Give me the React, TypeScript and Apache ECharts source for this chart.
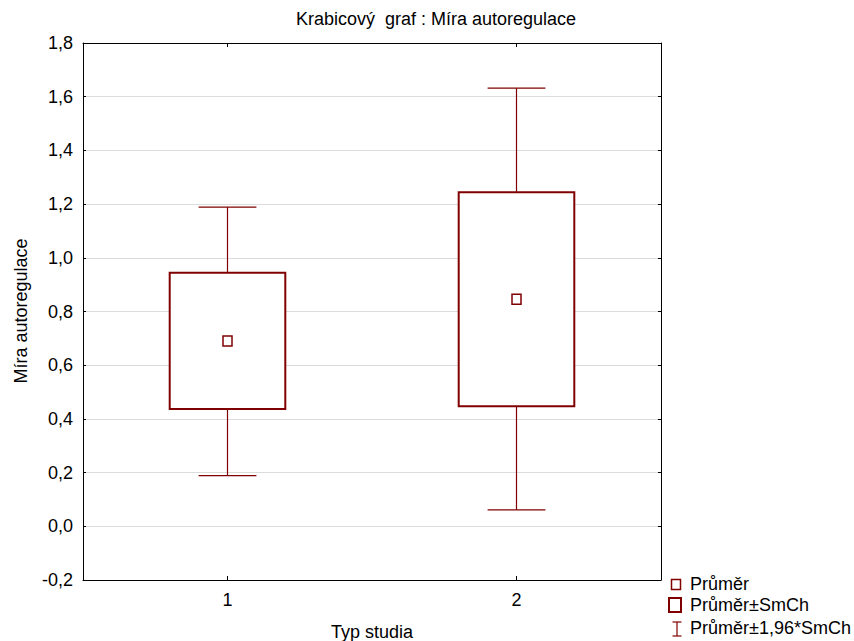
import React, { useEffect, useRef } from "react";
import * as echarts from "echarts";

// Study types on the x axis
const categories = ["1", "2"];
// Mean of the autoregulation score per study type
const means = [0.69, 0.846];
// Mean ± standard error (box)
const seLow = [0.437, 0.447];
const seHigh = [0.944, 1.244];
// Mean ± 1.96 * standard error (whiskers)
const ciLow = [0.189, 0.061];
const ciHigh = [1.189, 1.632];

const Y_MIN = -0.2;
const Y_MAX = 1.8;
const Y_STEP = 0.2;

const MAROON = "#800000";
const FONT = "Liberation Sans, Arial, sans-serif";
const FS = 18;

const rows = categories.map((_, i) => [i, ciLow[i], seLow[i], means[i], seHigh[i], ciHigh[i]]);

const fmt = (v: number) => v.toFixed(1).replace(".", ",");

export default function App() {
  const ref = useRef<HTMLDivElement>(null);

  useEffect(() => {
    if (!ref.current) return;
    const chart = echarts.init(ref.current, null, { renderer: "svg" });

    const whiskers = (params: any, api: any) => {
      const x = api.value(0);
      const lo = api.coord([x, api.value(1)]);
      const bl = api.coord([x, api.value(2)]);
      const bh = api.coord([x, api.value(4)]);
      const hi = api.coord([x, api.value(5)]);
      const band = api.size([1, 0])[0];
      const half = (band * 0.2) / 2;
      const st = { stroke: MAROON, lineWidth: 1.2 };
      return {
        type: "group",
        children: [
          { type: "line", shape: { x1: hi[0], y1: hi[1], x2: bh[0], y2: bh[1] }, style: st },
          { type: "line", shape: { x1: bl[0], y1: bl[1], x2: lo[0], y2: lo[1] }, style: st },
          { type: "line", shape: { x1: hi[0] - half, y1: hi[1], x2: hi[0] + half, y2: hi[1] }, style: st },
          { type: "line", shape: { x1: lo[0] - half, y1: lo[1], x2: lo[0] + half, y2: lo[1] }, style: st },
        ],
      };
    };

    const boxes = (params: any, api: any) => {
      const x = api.value(0);
      const bl = api.coord([x, api.value(2)]);
      const bh = api.coord([x, api.value(4)]);
      const band = api.size([1, 0])[0];
      const w = band * 0.4;
      return {
        type: "rect",
        shape: { x: bh[0] - w / 2, y: bh[1], width: w, height: bl[1] - bh[1] },
        style: { fill: "#ffffff", stroke: MAROON, lineWidth: 2 },
      };
    };

    const meanMarks = (params: any, api: any) => {
      const x = api.value(0);
      const m = api.coord([x, api.value(3)]);
      return {
        type: "rect",
        shape: { x: m[0] - 4.5, y: m[1] - 5, width: 9, height: 10 },
        style: { fill: "#ffffff", stroke: MAROON, lineWidth: 1.5 },
      };
    };

    const yAxisBase = {
      type: "value",
      min: Y_MIN,
      max: Y_MAX,
      interval: Y_STEP,
      axisLine: { show: true, onZero: false, lineStyle: { color: "#000", width: 1 } },
      axisTick: { show: true, inside: true, length: 3, lineStyle: { color: "#000" } },
    };

    const xAxisBase = {
      type: "category",
      data: categories,
      axisLine: { show: true, onZero: false, lineStyle: { color: "#000", width: 1 } },
      axisTick: { show: true, inside: true, length: 4, alignWithLabel: true, lineStyle: { color: "#000" } },
      splitLine: { show: false },
    };

    const legendText = (text: string, y: number) => ({
      type: "text",
      x: 690,
      y,
      style: { text, font: `${FS}px ${FONT}`, fill: "#000", verticalAlign: "middle" },
    });

    chart.setOption({
      animation: false,
      backgroundColor: "#ffffff",
      textStyle: { fontFamily: FONT },
      grid: { left: 83, top: 43, right: 193, bottom: 61, containLabel: false },
      xAxis: [
        {
          ...xAxisBase,
          position: "bottom",
          axisLabel: { color: "#000", fontSize: FS, fontFamily: FONT, margin: 11 },
        },
        {
          ...xAxisBase,
          position: "top",
          axisLabel: { show: false },
        },
      ],
      yAxis: [
        {
          ...yAxisBase,
          position: "left",
          axisLabel: { color: "#000", fontSize: FS, fontFamily: FONT, margin: 10, formatter: fmt },
          splitLine: { show: true, lineStyle: { color: "#dcdcdc", width: 1 } },
        },
        {
          ...yAxisBase,
          position: "right",
          axisLabel: { show: false },
          splitLine: { show: false },
        },
      ],
      series: [
        {
          name: "Průměr±1,96*SmCh",
          type: "custom",
          renderItem: whiskers,
          encode: { x: 0, y: [1, 2, 3, 4, 5] },
          data: rows,
          z: 2,
        },
        {
          name: "Průměr±SmCh",
          type: "custom",
          renderItem: boxes,
          encode: { x: 0, y: [1, 2, 3, 4, 5] },
          data: rows,
          z: 3,
        },
        {
          name: "Průměr",
          type: "custom",
          renderItem: meanMarks,
          encode: { x: 0, y: [1, 2, 3, 4, 5] },
          data: rows,
          z: 4,
        },
      ],
      graphic: [
        {
          type: "text",
          x: 436,
          y: 19,
          style: {
            text: "Krabicový  graf : Míra autoregulace",
            font: `${FS}px ${FONT}`,
            fill: "#000",
            align: "center",
            verticalAlign: "middle",
          },
        },
        {
          type: "text",
          x: 372,
          y: 632,
          style: {
            text: "Typ studia",
            font: `${FS}px ${FONT}`,
            fill: "#000",
            align: "center",
            verticalAlign: "middle",
          },
        },
        {
          type: "text",
          x: 21,
          y: 311,
          rotation: Math.PI / 2,
          style: {
            text: "Míra autoregulace",
            font: `${FS}px ${FONT}`,
            fill: "#000",
            align: "center",
            verticalAlign: "middle",
          },
        },
        // legend symbols
        {
          type: "rect",
          shape: { x: 671.5, y: 579.5, width: 9, height: 10 },
          style: { fill: "#fff", stroke: MAROON, lineWidth: 1.5 },
        },
        {
          type: "rect",
          shape: { x: 669, y: 598, width: 12, height: 14 },
          style: { fill: "#fff", stroke: MAROON, lineWidth: 2 },
        },
        {
          type: "line",
          shape: { x1: 672.5, y1: 622, x2: 681.5, y2: 622 },
          style: { stroke: MAROON, lineWidth: 1.2 },
        },
        {
          type: "line",
          shape: { x1: 677, y1: 622, x2: 677, y2: 636 },
          style: { stroke: MAROON, lineWidth: 1.2 },
        },
        {
          type: "line",
          shape: { x1: 672.5, y1: 636, x2: 681.5, y2: 636 },
          style: { stroke: MAROON, lineWidth: 1.2 },
        },
        legendText("Průměr", 584),
        legendText("Průměr±SmCh", 605),
        legendText("Průměr±1,96*SmCh", 628),
      ],
    });

    return () => chart.dispose();
  }, []);

  return (
    <div
      ref={ref}
      style={{ position: "fixed", left: 0, top: 0, width: 854, height: 641 }}
    />
  );
}
